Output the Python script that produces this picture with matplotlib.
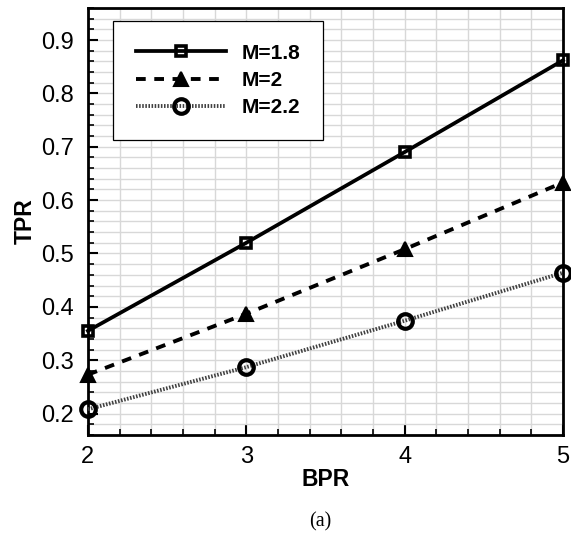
"""TPR versus BPR for three Mach numbers"""

import matplotlib
matplotlib.use("Agg")
import matplotlib.pyplot as plt
from matplotlib.ticker import MultipleLocator

plt.rcParams['font.family'] = ['Liberation Sans', 'DejaVu Sans']

bpr = [2, 3, 4, 5]
tpr_m18 = [0.355, 0.520, 0.690, 0.862]
tpr_m20 = [0.273, 0.387, 0.508, 0.633]
tpr_m22 = [0.208, 0.287, 0.374, 0.464]
labels = ['M=1.8', 'M=2', 'M=2.2']

fig = plt.figure(figsize=(5.71, 5.33), dpi=100)
ax = fig.add_axes([0.154, 0.184, 0.832, 0.801])

ax.plot(bpr, tpr_m18, color='black', lw=2.7, marker='s', ms=7,
        mfc='none', mec='black', mew=2.6, label=labels[0], clip_on=False, zorder=5)
ax.plot(bpr, tpr_m20, color='black', lw=2.8, ls=(0, (2.5, 2.2)), marker='^', ms=9.5,
        mfc='black', mec='black', mew=1.5, label=labels[1], clip_on=False, zorder=5)
ax.plot(bpr, tpr_m22, color='0.25', lw=2.8, ls=(0, (0.4, 0.4)), marker='o', ms=10.5,
        mfc='none', mec='black', mew=3.0, label=labels[2], clip_on=False, zorder=5)

ax.set_xlim(2, 5)
ax.set_ylim(0.16, 0.96)
ax.xaxis.set_major_locator(MultipleLocator(1))
ax.xaxis.set_minor_locator(MultipleLocator(0.2))
ax.yaxis.set_major_locator(MultipleLocator(0.1))
ax.yaxis.set_minor_locator(MultipleLocator(0.02))
ax.set_yticks([0.2, 0.3, 0.4, 0.5, 0.6, 0.7, 0.8, 0.9])
ax.set_yticklabels(['0.2', '0.3', '0.4', '0.5', '0.6', '0.7', '0.8', '0.9'])

ax.grid(which='both', color='#d8d8d8', lw=1.0)
ax.set_axisbelow(True)
ax.tick_params(which='major', direction='in', length=7, width=1.5, labelsize=17)
ax.tick_params(axis='y', which='major', pad=10)
ax.tick_params(axis='x', which='major', pad=8)
ax.tick_params(which='minor', direction='in', length=4, width=1.2)
for s in ax.spines.values():
    s.set_linewidth(2)

ax.set_xlabel('BPR', fontsize=16.5, fontweight='bold', labelpad=0)
ax.set_ylabel('TPR', fontsize=16.5, fontweight='bold', labelpad=3)

leg = ax.legend(loc='upper left', bbox_to_anchor=(0.053, 0.970),
                prop={'weight': 'bold', 'size': 15}, frameon=True, fancybox=False,
                framealpha=1, edgecolor='black', handlelength=4.3, borderpad=1.1,
                labelspacing=0.4, handletextpad=0.75, borderaxespad=0)
leg.get_frame().set_linewidth(0.9)

fig.text(0.56, 0.012, '(a)', family='Liberation Serif', fontsize=14.5, ha='center')

fig.savefig('out.png', dpi=100)
